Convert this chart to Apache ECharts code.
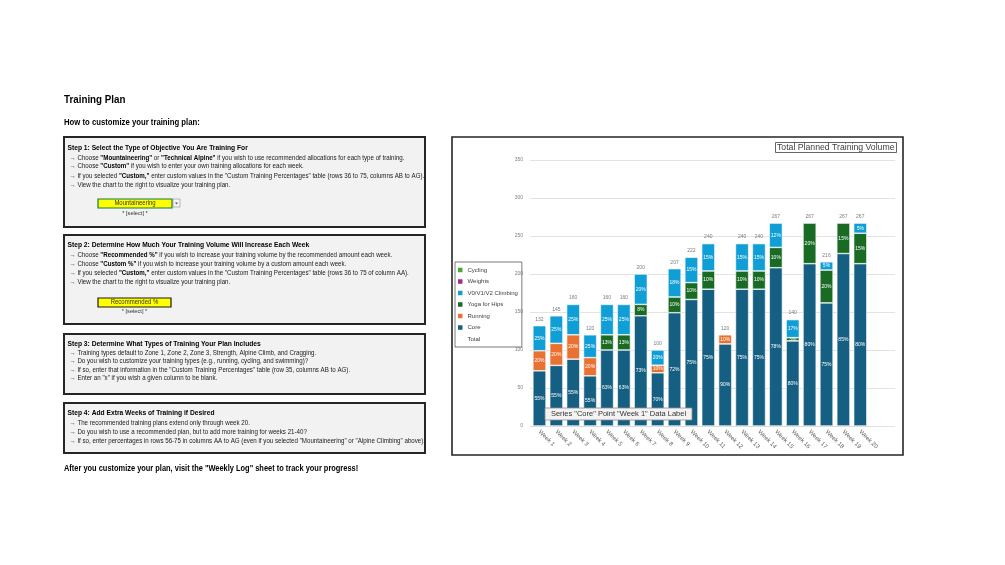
<!DOCTYPE html>
<html><head><meta charset="utf-8">
<script src="https://cdn.jsdelivr.net/npm/echarts@6/dist/echarts.min.js"></script>
<style>html,body{margin:0;padding:0;background:#fff}#c{width:1005px;height:565px}</style>
</head><body><div id="c"></div>
<script>
// ---------- data ----------
const weeks = ['Week 1','Week 2','Week 3','Week 4','Week 5','Week 6','Week 7','Week 8','Week 9','Week 10',
  'Week 11','Week 12','Week 13','Week 14','Week 15','Week 16','Week 17','Week 18','Week 19','Week 20'];
const totals     = [132,145,160,120,160,160,200,100,207,222,240,120,240,240,267,140,267,216,267,267];
const corePct    = [55,55,55,55,62.5,62.5,72.5,70,72,75,75,90,75,75,78,80,80,75,85,80];
const runningPct = [20,20,20,20,0,0,0,10,0,0,0,10,0,0,0,0,0,0,0,0];
const yogaPct    = [0,0,0,0,12.5,12.5,7.5,0,10,10,10,0,10,10,10,3,20,20,15,15];
const climbPct   = [25,25,25,25,25,25,20,20,18,15,15,0,15,15,12,17,0,5,0,5];
const weightsPct = [0,0,0,0,0,0,0,0,0,0,0,0,0,0,0,0,0,0,0,0];
const cyclingPct = [0,0,0,0,0,0,0,0,0,0,0,0,0,0,0,0,0,0,0,0];
const yTicks = {min:0, max:350, interval:50};
const chartTitle = 'Total Planned Training Volume';
const hoverNote = 'Series "Core" Point "Week 1" Data Label';

// ---------- left panel texts ----------
const pageTitle = 'Training Plan';
const pageSub = 'How to customize your training plan:';
const step1Head = 'Step 1: Select the Type of Objective You Are Training For';
const step1Lines = [
  '→ Choose **"Mountaineering"** or **"Technical Alpine"** if you wish to use recommended allocations for each type of training.',
  '→ Choose **"Custom"** if you wish to enter your own training allocations for each week.',
  '→ If you selected **"Custom,"** enter custom values in the "Custom Training Percentages" table (rows 36 to 75, columns AB to AG).',
  '→ View the chart to the right to visualize your training plan.'
];
const step2Head = 'Step 2: Determine How Much Your Training Volume Will Increase Each Week';
const step2Lines = [
  '→ Choose **"Recommended %"** if you wish to increase your training volume by the recommended amount each week.',
  '→ Choose **"Custom %"** if you wish to increase your training volume by a custom amount each week.',
  '→ If you selected **"Custom,"** enter custom values in the "Custom Training Percentages" table (rows 36 to 75 of column AA).',
  '→ View the chart to the right to visualize your training plan.'
];
const step3Head = 'Step 3: Determine What Types of Training Your Plan Includes';
const step3Lines = [
  '→ Training types default to Zone 1, Zone 2, Zone 3, Strength, Alpine Climb, and Cragging.',
  '→ Do you wish to customize your training types (e.g., running, cycling, and swimming)?',
  '→ If so, enter that information in the "Custom Training Percentages" table (row 35, columns AB to AG).',
  '→ Enter an "x" if you wish a given column to be blank.'
];
const step4Head = 'Step 4: Add Extra Weeks of Training if Desired';
const step4Lines = [
  '→ The recommended training plans extend only through week 20.',
  '→ Do you wish to use a recommended plan, but to add more training for weeks 21-40?',
  '→ If so, enter percentages in rows 56-75 in columns AA to AG (even if you selected "Mountaineering" or "Alpine Climbing" above).'
];
const select1 = 'Mountaineering';
const select2 = 'Recommended %';
const selectHint = '* [select] *';
const footer = 'After you customize your plan, visit the "Weekly Log" sheet to track your progress!';

// ---------- build ----------
const FF = 'Liberation Sans';
function richLine(s){
  return s.split('**').map((p,i)=> i%2 ? '{b|'+p+'}' : (p ? '{n|'+p+'}' : '')).join('');
}
function bodyText(x,y,s){
  return {type:'text', x:x, y:y, scaleX:0.98, style:{text:richLine(s), verticalAlign:'middle', align:'left',
    rich:{n:{fontFamily:FF,fontSize:6.3,fill:'#1a1a1a'}, b:{fontFamily:FF,fontSize:6.3,fontWeight:'bold',fill:'#000'}}}};
}
function plainText(x,y,s,size,weight,scale,color,align){
  return {type:'text', x:x, y:y, scaleX:scale, style:{text:s, fontFamily:FF, fontSize:size, fontWeight:weight,
    fill:color||'#000', verticalAlign:'middle', align:align||'left'}};
}
function box(x,y,w,h){
  return {type:'rect', shape:{x:x,y:y,width:w,height:h}, style:{fill:'#f2f2f2', stroke:'#262626', lineWidth:2}};
}
const g = [];
g.push(plainText(64,100,pageTitle,11,'bold',0.89));
g.push(plainText(64,123,pageSub,8.5,'bold',0.91));
// step 1
g.push(box(64,137,361,90));
g.push(plainText(67.5,148,step1Head,7,'bold',0.955));
[158.3,166.7,176,185].forEach((y,i)=>g.push(bodyText(69.5,y,step1Lines[i])));
g.push({type:'rect', shape:{x:98,y:199,width:74,height:9}, style:{fill:'#ffff00', stroke:'#107c41', lineWidth:1.2}});
g.push({type:'rect', shape:{x:173,y:199,width:7,height:8}, style:{fill:'#f5f5f5', stroke:'#8a8a8a', lineWidth:0.6}});
g.push({type:'polygon', shape:{points:[[175,202.5],[178,202.5],[176.5,204.5]]}, style:{fill:'#555'}});
g.push(plainText(135,203.5,select1,6.3,'normal',0.95,'#333','center'));
g.push(plainText(135,213,selectHint,6,'normal',0.95,'#333','center'));
// step 2
g.push(box(64,235,361,89));
g.push(plainText(67.5,245,step2Head,7,'bold',0.955));
[255,264.3,273.3,282.3].forEach((y,i)=>g.push(bodyText(69.5,y,step2Lines[i])));
g.push({type:'rect', shape:{x:98,y:298,width:73,height:9}, style:{fill:'#ffff00', stroke:'#1a1a1a', lineWidth:1.2}});
g.push(plainText(134.5,302.5,select2,6.3,'normal',0.95,'#333','center'));
g.push(plainText(134.5,311,selectHint,6,'normal',0.95,'#333','center'));
// step 3
g.push(box(64,334,361,60));
g.push(plainText(67.5,344.3,step3Head,7,'bold',0.955));
[353.3,361.7,370,378.3].forEach((y,i)=>g.push(bodyText(69.5,y,step3Lines[i])));
// step 4
g.push(box(64,403,361,50));
g.push(plainText(67.5,413,step4Head,7,'bold',0.955));
[423.3,432.3,441.7].forEach((y,i)=>g.push(bodyText(69.5,y,step4Lines[i])));
g.push(plainText(64,469,footer,8.5,'bold',0.875));
// chart frame
g.push({type:'rect', shape:{x:452,y:137,width:451,height:318}, style:{fill:'none', stroke:'#262626', lineWidth:1.6}});
// hover note
g.push({type:'rect', z:100, shape:{x:545,y:408,width:147,height:12}, style:{fill:'#f3f3f3', stroke:'#8c8c8c', lineWidth:0.8}});
g.push({type:'text', z:101, x:618.5, y:414.3, style:{text:hoverNote, fontFamily:FF, fontSize:7.5, fill:'#333', align:'center', verticalAlign:'middle'}});

const seriesDefs = [
  {name:'Core', pct:corePct, color:'#156082'},
  {name:'Running', pct:runningPct, color:'#E97132'},
  {name:'Yoga for Hips', pct:yogaPct, color:'#196B24'},
  {name:'V0/V1/V2 Climbing', pct:climbPct, color:'#0F9ED5'},
  {name:'Weights', pct:weightsPct, color:'#A02B93'},
  {name:'Cycling', pct:cyclingPct, color:'#4EA72E'}
];
const series = seriesDefs.map(d=>({
  name:d.name, type:'bar', stack:'vol', xAxisIndex:0, yAxisIndex:0,
  barCategoryGap:'22%',
  itemStyle:{color:d.color, borderColor:'#ffffff', borderWidth:0.6},
  label:{show:true, position:'inside', color:'#fff', fontSize:5, fontFamily:FF,
    formatter:p=>Math.round(d.pct[p.dataIndex])+'%'},
  data:d.pct.map((p,i)=> p>0 ? totals[i]*p/100 : '-')
}));
series.push({
  name:'Total', type:'scatter', xAxisIndex:0, yAxisIndex:0, data:totals,
  symbol:'circle', symbolSize:1, itemStyle:{color:'rgba(0,0,0,0)'},
  label:{show:true, position:'top', distance:3.5, color:'#595959', fontSize:5, fontFamily:FF}
});

const chart = echarts.init(document.getElementById('c'), null, {renderer:'canvas'});
chart.setOption({
  animation:false,
  backgroundColor:'#ffffff',
  title:{text:chartTitle, left:775, top:142, padding:[1,2],
    borderColor:'#404040', borderWidth:0.8,
    textStyle:{fontFamily:FF, fontSize:8.7, fontWeight:'normal', color:'#404040'}},
  legend:{orient:'vertical', left:455, top:262, padding:[4,4,4,3], itemGap:3.5,
    itemWidth:4.5, itemHeight:4.5, icon:'rect', borderColor:'#595959', borderWidth:0.8,
    itemStyle:{borderWidth:0},
    textStyle:{fontFamily:FF, fontSize:6, color:'#404040', lineHeight:8},
    data:['Cycling','Weights','V0/V1/V2 Climbing','Yoga for Hips','Running','Core',
      {name:'Total', itemStyle:{color:'rgba(0,0,0,0)'}}]},
  grid:[
    {left:531, right:136.3, top:160, bottom:139},
    {left:530, right:110, top:160, bottom:139}
  ],
  xAxis:[
    {type:'category', gridIndex:0, data:weeks,
      axisLine:{lineStyle:{color:'#d9d9d9', width:1}}, axisTick:{show:false},
      axisLabel:{rotate:-45, fontSize:6, color:'#595959', fontFamily:FF, margin:5, interval:0}},
    {type:'value', gridIndex:1, min:0, max:1, show:false}
  ],
  yAxis:[
    {type:'value', gridIndex:0, min:yTicks.min, max:yTicks.max, interval:yTicks.interval, show:false},
    {type:'value', gridIndex:1, min:yTicks.min, max:yTicks.max, interval:yTicks.interval,
      axisLine:{show:false}, axisTick:{show:false},
      axisLabel:{fontSize:5, color:'#7f7f7f', fontFamily:FF, margin:7},
      splitLine:{lineStyle:{color:'#e3e3e3', width:1}}}
  ],
  graphic:{elements:g},
  series:series
});
</script></body></html>
